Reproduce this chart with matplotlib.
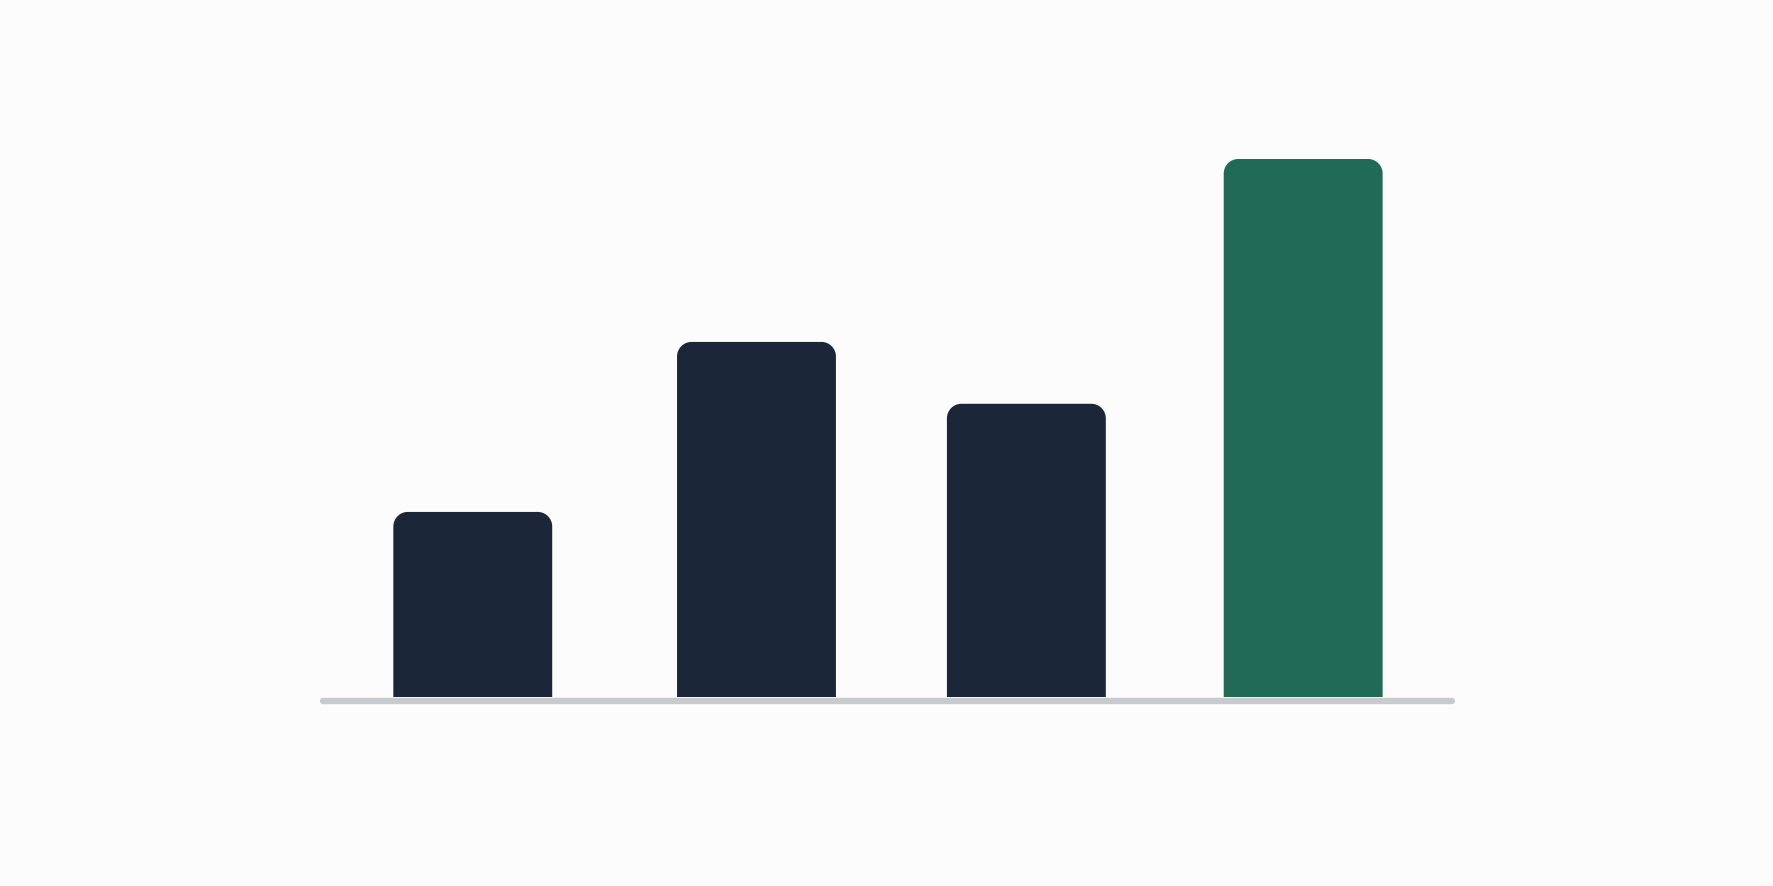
import numpy as np
import matplotlib
matplotlib.use("Agg")
import matplotlib.pyplot as plt
from matplotlib.path import Path
from matplotlib.patches import PathPatch

# --- Data ---
categories = ["A", "B", "C", "D"]
values = [34.4, 66.0, 54.5, 100.0]
highlight = [False, False, False, True]

# --- Layout / style ---
positions = [0, 1.025, 2, 3]
BG = "#fcfcfc"
NAVY = "#1b2638"
GREEN = "#216a56"
BASE = "#c8cbce"
BAR_W = 0.574
RX, RY = 0.052, 2.7   # corner radius in data units (x, y)
K = 0.55              # bezier circle constant


def rounded_top_bar(ax, x, h, w, color):
    x0, x1 = x - w / 2, x + w / 2
    verts = [(x0, 0), (x0, h - RY),
             (x0, h - RY * (1 - K)), (x0 + RX * (1 - K), h), (x0 + RX, h),
             (x1 - RX, h),
             (x1 - RX * (1 - K), h), (x1, h - RY * (1 - K)), (x1, h - RY),
             (x1, 0), (x0, 0)]
    codes = [Path.MOVETO, Path.LINETO,
             Path.CURVE4, Path.CURVE4, Path.CURVE4,
             Path.LINETO,
             Path.CURVE4, Path.CURVE4, Path.CURVE4,
             Path.LINETO, Path.CLOSEPOLY]
    ax.add_patch(PathPatch(Path(verts, codes), facecolor=color,
                           edgecolor="none", zorder=2))


fig = plt.figure(figsize=(17.74, 8.87), dpi=100, facecolor=BG)
ax = fig.add_axes([0, 0, 1, 1])
ax.set_facecolor(BG)

for xi, v, hl in zip(positions, values, highlight):
    rounded_top_bar(ax, xi, v, BAR_W, GREEN if hl else NAVY)

# baseline
ax.plot([-0.541, 3.538], [-0.74, -0.74], color=BASE, lw=4.6,
        solid_capstyle="round", zorder=1)

ax.set_xlim(-1.708, 4.701)
ax.set_ylim(-35.13, 129.74)
ax.axis("off")

fig.savefig("out.png", dpi=100, facecolor=BG)
